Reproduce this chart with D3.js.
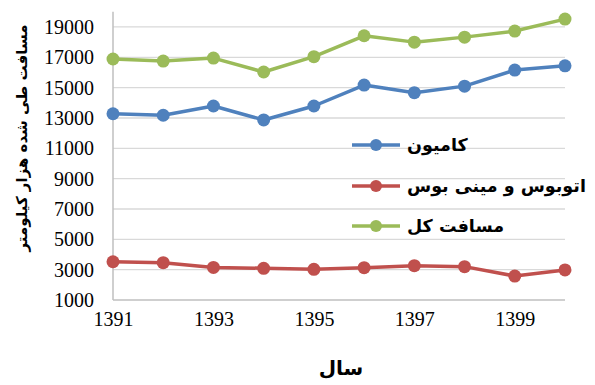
<!DOCTYPE html>
<html><head><meta charset="utf-8">
<script src="https://cdn.jsdelivr.net/npm/d3@7"></script>
<style>body{margin:0;background:#fff}svg{display:block}</style>
</head><body>
<script>
const years = [1391,1392,1393,1394,1395,1396,1397,1398,1399,1400];
const truck = [13280,13180,13790,12870,13790,15170,14670,15100,16160,16440];
const bus = [3520,3460,3150,3090,3020,3130,3260,3200,2580,2980];
const total = [16890,16750,16950,16030,17040,18420,18000,18330,18730,19520];
const yTicks = [1000,3000,5000,7000,9000,11000,13000,15000,17000,19000];
const xTicks = [1391,1393,1395,1397,1399];
const seriesNames = ["کامیون","اتوبوس و مینی بوس","مسافت کل"];
const colors = ["#4f81bd","#c0504d","#9bbb59"];
const xTitle = "سال";
const yTitle = "مسافت طی شده هزار کیلومتر";

const W=595,H=385;
const svg=d3.select("body").append("svg").attr("width",W).attr("height",H);
const x=d3.scaleLinear().domain([1391,1400]).range([113,565]);
const y=d3.scaleLinear().domain([1000,20000]).range([300,11.8]);

svg.append("g").selectAll("line").data(yTicks.slice(1)).join("line")
  .attr("x1",113).attr("x2",565).attr("y1",d=>y(d)).attr("y2",d=>y(d))
  .attr("stroke","#d9d9d9").attr("stroke-width",1.3);

const serif='"Liberation Serif"';
const yAxis=d3.axisLeft(y).tickValues(yTicks).tickSize(0).tickPadding(19).tickFormat(d3.format("d"));
const gy=svg.append("g").attr("transform","translate(113,0)").call(yAxis);
gy.select(".domain").attr("stroke","#bfbfbf").attr("stroke-width",1.5).attr("d","M0,11.8V300");
gy.selectAll(".tick text").style("font-family",serif).style("font-size","20px").attr("fill","#000");

const xAxis=d3.axisBottom(x).tickValues(xTicks).tickSize(0).tickPadding(12).tickFormat(d3.format("d"));
const gx=svg.append("g").attr("transform","translate(0,300)").call(xAxis);
gx.select(".domain").attr("stroke","#bfbfbf").attr("stroke-width",1.5).attr("d","M113,0H565");
gx.selectAll(".tick text").style("font-family",serif).style("font-size","20px").attr("fill","#000");

const data=[truck,bus,total];
const line=d3.line().x((d,i)=>x(years[i])).y(d=>y(d));
data.forEach((s,k)=>{
  const g=svg.append("g");
  g.append("path").datum(s).attr("d",line).attr("fill","none").attr("stroke",colors[k]).attr("stroke-width",3.5).attr("stroke-linejoin","round");
  g.selectAll("circle").data(s).join("circle").attr("cx",(d,i)=>x(years[i])).attr("cy",d=>y(d)).attr("r",6.5).attr("fill",colors[k]);
});

const legY=[145,186,226];
seriesNames.forEach((n,k)=>{
  const g=svg.append("g");
  g.append("line").attr("x1",352).attr("x2",400).attr("y1",legY[k]).attr("y2",legY[k]).attr("stroke",colors[k]).attr("stroke-width",3.5);
  g.append("circle").attr("cx",376).attr("cy",legY[k]).attr("r",6).attr("fill",colors[k]);
  g.append("text").attr("x",407).attr("y",legY[k]+6).text(n)
   .style("font-family",'"DejaVu Sans"').style("font-weight","bold").style("font-size","17.5px").attr("fill","#000");
});

svg.append("text").attr("x",341).attr("y",375).attr("text-anchor","middle").text(xTitle)
  .style("font-family",'"DejaVu Sans"').style("font-weight","bold").style("font-size","20px");
svg.append("text").attr("transform","translate(27,138) rotate(-90)").attr("text-anchor","middle").text(yTitle)
  .style("font-family",'"DejaVu Sans"').style("font-weight","bold").style("font-size","15px");
</script>
</body></html>
